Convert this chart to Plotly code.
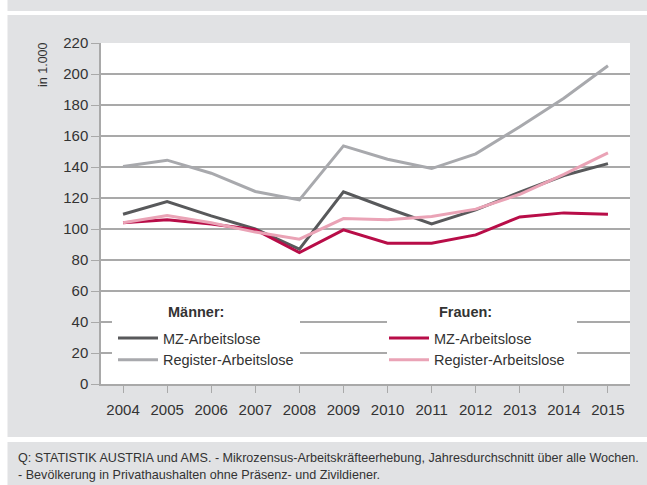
import plotly.graph_objects as go

years = [2004, 2005, 2006, 2007, 2008, 2009, 2010, 2011, 2012, 2013, 2014, 2015]
mz_maenner = [109.5, 117.7, 108.5, 100.0, 87.0, 124.0, 113.4, 103.3, 112.3, 123.7, 134.5, 142.2]
reg_maenner = [140.3, 144.4, 136.0, 124.2, 118.8, 153.6, 145.0, 139.0, 148.5, 166.0, 184.4, 205.3]
mz_frauen = [104.1, 105.9, 103.3, 99.5, 84.8, 99.4, 90.8, 90.8, 96.2, 107.8, 110.4, 109.5]
reg_frauen = [104.0, 108.7, 104.0, 98.0, 93.4, 106.7, 105.9, 108.0, 112.8, 122.4, 135.3, 149.1]
y_ticks = [0, 20, 40, 60, 80, 100, 120, 140, 160, 180, 200, 220]

FONT = "Liberation Sans, Arial, sans-serif"
W, H = 647, 485
L, R, T, B = 101, 630, 43, 384
GRAY_BG = "#e1e2e4"
GRID = "#a9a9a9"
TXT = "#333333"


def px(x):
    return (x - L) / (R - L)


def py(y):
    return (B - y) / (B - T)


fig = go.Figure()
fig.add_trace(go.Scatter(x=years, y=mz_maenner, mode="lines", name="MZ-Arbeitslose",
                         line=dict(color="#58595b", width=3), legend="legend"))
fig.add_trace(go.Scatter(x=years, y=reg_maenner, mode="lines", name="Register-Arbeitslose",
                         line=dict(color="#a8a9ad", width=3), legend="legend"))
fig.add_trace(go.Scatter(x=years, y=mz_frauen, mode="lines", name="MZ-Arbeitslose",
                         line=dict(color="#b80d48", width=3), legend="legend2"))
fig.add_trace(go.Scatter(x=years, y=reg_frauen, mode="lines", name="Register-Arbeitslose",
                         line=dict(color="#eaa3b6", width=3), legend="legend2"))

shapes = [
    dict(type="rect", xref="paper", yref="paper", x0=px(7.5), x1=px(647), y0=py(11), y1=py(0),
         fillcolor=GRAY_BG, line_width=0, layer="below"),
    dict(type="rect", xref="paper", yref="paper", x0=px(7.5), x1=px(647), y0=py(437), y1=py(15),
         fillcolor=GRAY_BG, line_width=0, layer="below"),
    dict(type="rect", xref="paper", yref="paper", x0=0, x1=1, y0=0, y1=1,
         fillcolor="white", line_width=0, layer="below"),
    dict(type="rect", xref="paper", yref="paper", x0=px(7.5), x1=px(647), y0=py(485), y1=py(442),
         fillcolor=GRAY_BG, line_width=0, layer="below"),
    # white boxes behind the two legends
    dict(type="rect", xref="paper", yref="paper", x0=px(112), x1=px(300), y0=py(374), y1=py(298),
         fillcolor="white", line_width=0, layer="above"),
    dict(type="rect", xref="paper", yref="paper", x0=px(387), x1=px(577), y0=py(374), y1=py(298),
         fillcolor="white", line_width=0, layer="above"),
]

annotations = [
    dict(text="in 1.000", textangle=-90, xref="paper", yref="paper", x=px(43), y=py(65),
         xanchor="center", yanchor="middle", showarrow=False,
         font=dict(family=FONT, size=12.5, color=TXT)),
    dict(text="<b>Männer:</b>", xref="paper", yref="paper", x=px(166), y=py(312),
         xanchor="left", yanchor="middle", showarrow=False,
         font=dict(family=FONT, size=14.5, color=TXT)),
    dict(text="<b>Frauen:</b>", xref="paper", yref="paper", x=px(437), y=py(312),
         xanchor="left", yanchor="middle", showarrow=False,
         font=dict(family=FONT, size=14.5, color=TXT)),
    dict(text="Q: STATISTIK AUSTRIA und AMS. - Mikrozensus-Arbeitskräfteerhebung, Jahresdurchschnitt über alle Wochen.",
         xref="paper", yref="paper", x=px(16), y=py(458), xanchor="left", yanchor="middle",
         showarrow=False, font=dict(family=FONT, size=12.6, color=TXT)),
    dict(text="- Bevölkerung in Privathaushalten ohne Präsenz- und Zivildiener.",
         xref="paper", yref="paper", x=px(16), y=py(475), xanchor="left", yanchor="middle",
         showarrow=False, font=dict(family=FONT, size=12.6, color=TXT)),
]

legend_common = dict(bgcolor="rgba(0,0,0,0)", borderwidth=0, xanchor="left", yanchor="top",
                     font=dict(family=FONT, size=14.5, color=TXT), itemwidth=40,
                     tracegroupgap=0, traceorder="normal")

fig.update_layout(
    width=W, height=H,
    margin=dict(l=L, r=W - R, t=T, b=H - B, pad=0),
    paper_bgcolor="white", plot_bgcolor="white",
    font=dict(family=FONT, size=15, color=TXT),
    shapes=shapes, annotations=annotations,
    legend=dict(x=px(113), y=py(322), **legend_common),
    legend2=dict(x=px(384), y=py(322), **legend_common),
    xaxis=dict(range=[2003.5, 2015.5], tickmode="array", tickvals=years,
               ticktext=[str(y) for y in years], ticks="outside", ticklen=7, tickwidth=1,
               tickcolor=GRID, showline=True, linecolor=GRID, linewidth=1.5,
               showgrid=False, zeroline=False, ticklabelstandoff=4,
               tickfont=dict(family=FONT, size=15, color=TXT)),
    yaxis=dict(range=[0, 220], tickmode="array", tickvals=y_ticks,
               ticktext=[str(v) for v in y_ticks], ticks="outside", ticklen=8, tickwidth=1,
               tickcolor=GRID, showline=True, linecolor=GRID, linewidth=1.5,
               showgrid=True, gridcolor=GRID, gridwidth=1.5, zeroline=False,
               tickfont=dict(family=FONT, size=15, color=TXT)),
)

fig.write_html("out.html", config={"displayModeBar": False},
               post_script="document.body.style.margin='0';document.body.style.overflow='hidden';")
